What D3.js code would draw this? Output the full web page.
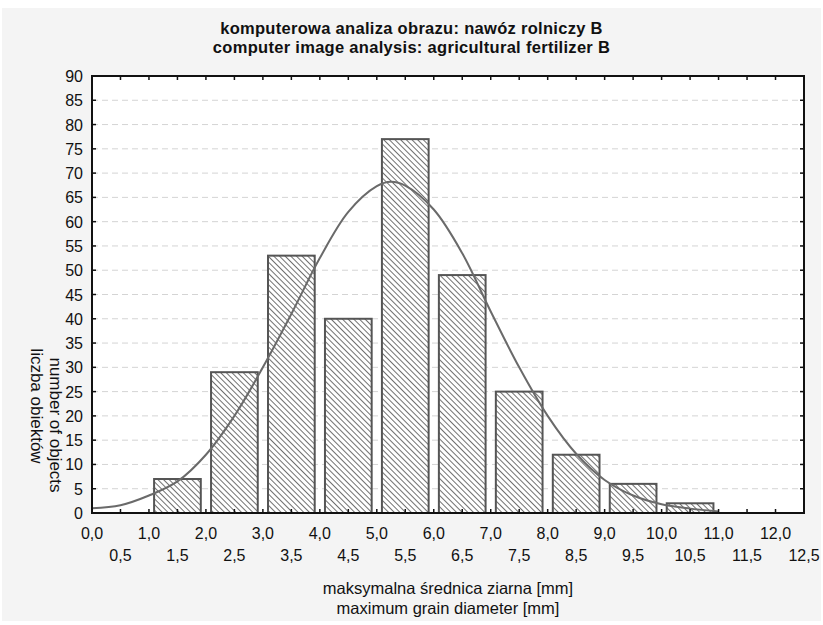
<!DOCTYPE html>
<html>
<head>
<meta charset="utf-8">
<script src="https://cdn.jsdelivr.net/npm/d3@7"></script>
<style>
  body { margin: 0; background: #fff; }
  text { font-family: 'Liberation Sans', Arial, sans-serif; fill: #111; }
</style>
</head>
<body>
<div id="chart"></div>
<script>
// histogram: bin centres [mm] and counts
const binCenters = [1.5, 2.5, 3.5, 4.5, 5.5, 6.5, 7.5, 8.5, 9.5, 10.5];
const counts = [7, 29, 53, 40, 77, 49, 25, 12, 6, 2];

// fitted curve
const curveX = [0, 0.5, 1.0, 1.5, 2.0, 2.5, 3.0, 3.5, 4.0, 4.5, 5.0, 5.25, 5.5, 6.0, 6.5, 7.0, 7.5, 8.0, 8.5, 9.0, 9.5, 10.0, 10.5, 11.0];
const curveY = [1.0, 1.6, 3.6, 6.5, 12.0, 20.0, 30.0, 41.0, 52.5, 62.0, 67.3, 68.2, 67.4, 62.5, 53.5, 41.5, 30.0, 20.0, 12.2, 6.8, 3.6, 1.8, 0.9, 0.3];

const xTicksMajor = ['0,0', '1,0', '2,0', '3,0', '4,0', '5,0', '6,0', '7,0', '8,0', '9,0', '10,0', '11,0', '12,0'];
const xTicksMinor = ['0,5', '1,5', '2,5', '3,5', '4,5', '5,5', '6,5', '7,5', '8,5', '9,5', '10,5', '11,5', '12,5'];
const yTicks = d3.range(0, 91, 5);

const titleLines = ['komputerowa analiza obrazu: nawóz rolniczy B', 'computer image analysis: agricultural fertilizer B'];
const xTitle = ['maksymalna średnica ziarna [mm]', 'maximum grain diameter [mm]'];
const yTitle = ['number of objects', 'liczba obiektów'];

const W = 823, H = 625;
const pLeft = 92, pRight = 804, pTop = 76, pBottom = 513;

const x = d3.scaleLinear().domain([0, 12.5]).range([pLeft, pRight]);
const y = d3.scaleLinear().domain([0, 90]).range([pBottom, pTop]);

const svg = d3.select('#chart').append('svg')
  .attr('width', W)
  .attr('height', H);

const defs = svg.append('defs');
const pat = defs.append('pattern')
  .attr('id', 'hatch')
  .attr('patternUnits', 'userSpaceOnUse')
  .attr('width', 4)
  .attr('height', 4)
  .attr('patternTransform', 'rotate(-45)');
pat.append('rect').attr('width', 4).attr('height', 4).attr('fill', '#fff');
pat.append('line')
  .attr('x1', 0).attr('y1', 0).attr('x2', 0).attr('y2', 4)
  .attr('stroke', '#333')
  .attr('stroke-width', 1.4);

// figure background
svg.append('rect')
  .attr('x', 2).attr('y', 8)
  .attr('width', W - 4).attr('height', H - 12)
  .attr('fill', '#f4f4f4');

svg.append('rect')
  .attr('x', pLeft).attr('y', pTop)
  .attr('width', pRight - pLeft).attr('height', pBottom - pTop)
  .attr('fill', '#fff');

// grid
svg.append('g')
  .selectAll('line')
  .data(yTicks.filter(d => d > 0 && d < 90))
  .join('line')
  .attr('x1', pLeft).attr('x2', pRight)
  .attr('y1', d => y(d)).attr('y2', d => y(d))
  .attr('stroke', '#d4d4d4')
  .attr('stroke-dasharray', '6,4');

// bars
svg.append('g')
  .selectAll('rect')
  .data(binCenters)
  .join('rect')
  .attr('x', d => x(d - 0.41))
  .attr('width', d => x(d + 0.41) - x(d - 0.41))
  .attr('y', (d, i) => y(counts[i]))
  .attr('height', (d, i) => y(0) - y(counts[i]))
  .attr('fill', 'url(#hatch)')
  .attr('stroke', '#555')
  .attr('stroke-width', 2);

// curve
const line = d3.line()
  .x(d => x(d[0]))
  .y(d => y(d[1]))
  .curve(d3.curveCatmullRom);

svg.append('path')
  .datum(d3.zip(curveX, curveY))
  .attr('d', line)
  .attr('fill', 'none')
  .attr('stroke', '#6a6a6a')
  .attr('stroke-width', 2);

// inward ticks
const halfSteps = d3.range(0, 26).map(i => i * 0.5);
const tk = svg.append('g').attr('stroke', '#111').attr('stroke-width', 1.5);
tk.selectAll('.tb').data(halfSteps).join('line')
  .attr('x1', d => x(d)).attr('x2', d => x(d))
  .attr('y1', pBottom).attr('y2', pBottom - 4);
tk.selectAll('.tt').data(halfSteps).join('line')
  .attr('x1', d => x(d)).attr('x2', d => x(d))
  .attr('y1', pTop).attr('y2', pTop + 4);
tk.selectAll('.tl').data(yTicks).join('line')
  .attr('x1', pLeft).attr('x2', pLeft + 4)
  .attr('y1', d => y(d)).attr('y2', d => y(d));
tk.selectAll('.tr').data(yTicks).join('line')
  .attr('x1', pRight).attr('x2', pRight - 4)
  .attr('y1', d => y(d)).attr('y2', d => y(d));

// frame
svg.append('rect')
  .attr('x', pLeft).attr('y', pTop)
  .attr('width', pRight - pLeft).attr('height', pBottom - pTop)
  .attr('fill', 'none')
  .attr('stroke', '#111')
  .attr('stroke-width', 2);

// y tick labels
svg.append('g')
  .selectAll('text')
  .data(yTicks)
  .join('text')
  .attr('x', pLeft - 9)
  .attr('y', d => y(d) + 6)
  .attr('text-anchor', 'end')
  .style('font-size', '16px')
  .text(d => d);

// x tick labels, two rows
svg.append('g')
  .selectAll('text')
  .data(xTicksMajor)
  .join('text')
  .attr('x', (d, i) => x(i))
  .attr('y', 539)
  .attr('text-anchor', 'middle')
  .style('font-size', '16px')
  .text(d => d);

svg.append('g')
  .selectAll('text')
  .data(xTicksMinor)
  .join('text')
  .attr('x', (d, i) => x(i + 0.5))
  .attr('y', 561)
  .attr('text-anchor', 'middle')
  .style('font-size', '16px')
  .text(d => d);

// titles
svg.append('g')
  .selectAll('text')
  .data(titleLines)
  .join('text')
  .attr('x', W / 2)
  .attr('y', (d, i) => 34 + i * 19)
  .attr('text-anchor', 'middle')
  .style('font-size', '16.5px')
  .style('font-weight', 'bold')
  .style('letter-spacing', '0.3px')
  .text(d => d);

svg.append('g')
  .selectAll('text')
  .data(xTitle)
  .join('text')
  .attr('x', (pLeft + pRight) / 2)
  .attr('y', (d, i) => 594 + i * 20)
  .attr('text-anchor', 'middle')
  .style('font-size', '16.5px')
  .text(d => d);

svg.append('g')
  .selectAll('text')
  .data(yTitle)
  .join('text')
  .attr('transform', (d, i) => `translate(${i === 0 ? 50 : 31}, ${i === 0 ? 425 : 406}) rotate(90)`)
  .attr('text-anchor', 'middle')
  .style('font-size', '17px')
  .text(d => d);
</script>
</body>
</html>
